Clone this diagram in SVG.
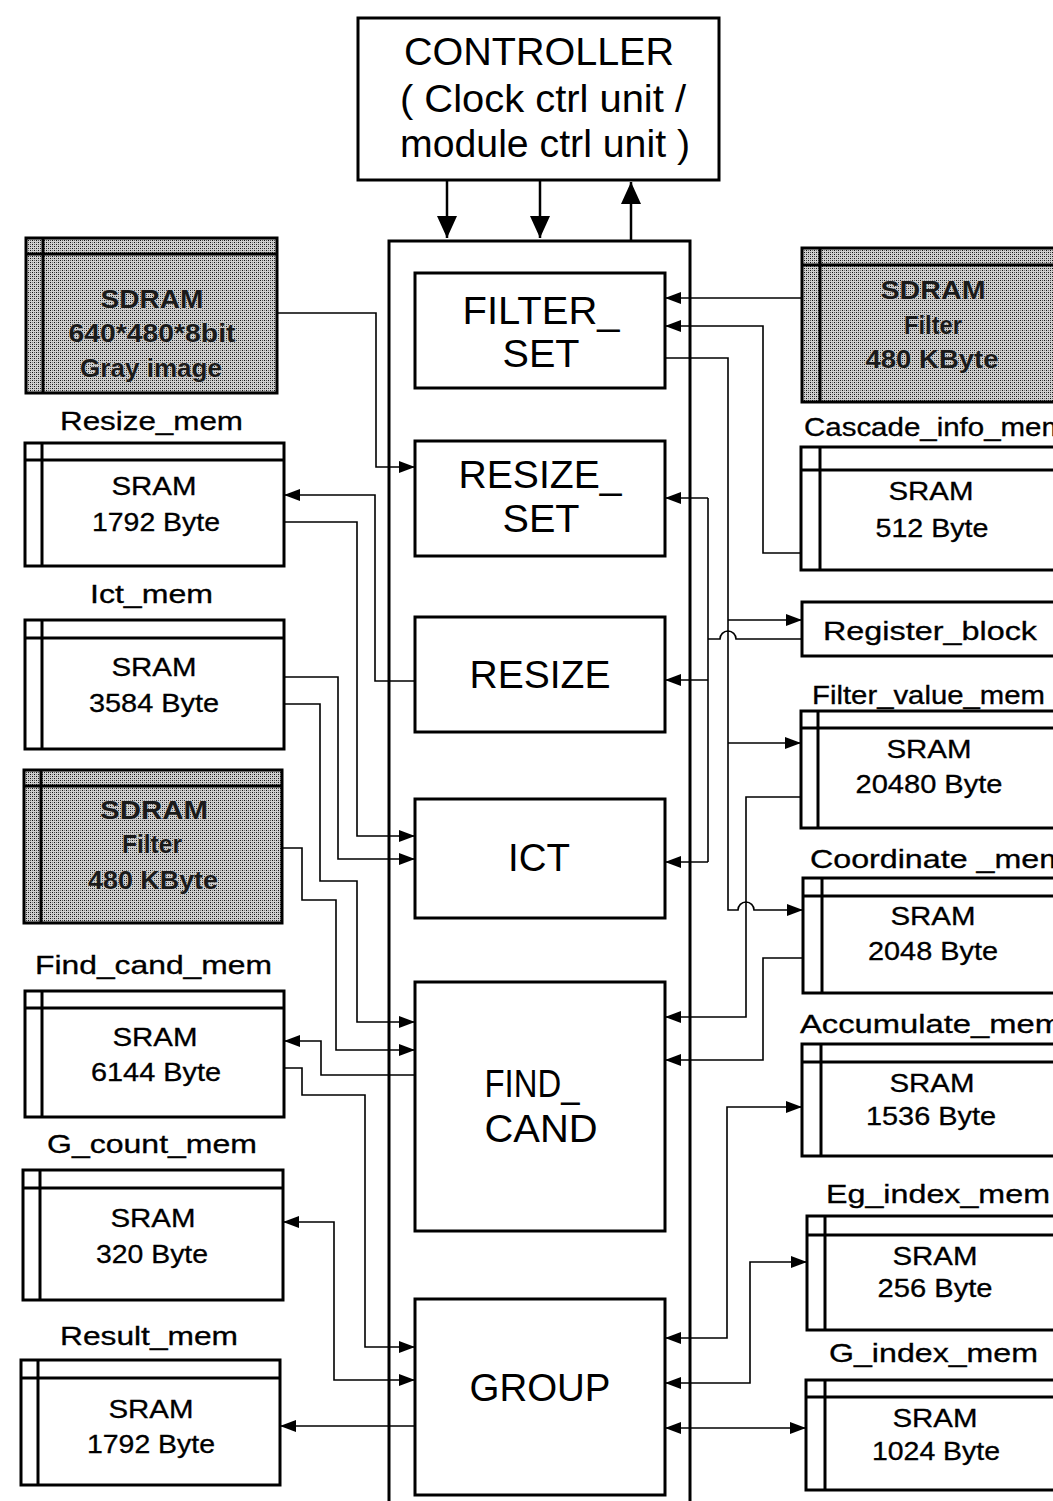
<svg xmlns="http://www.w3.org/2000/svg" width="1053" height="1501" viewBox="0 0 1053 1501">
<style>
.box{fill:#fff;stroke:#000;stroke-width:3}
.gbox{fill:url(#stip);stroke:#000;stroke-width:3}
.gline{stroke:#000;stroke-width:3}
.c{stroke:#000;stroke-width:1.6;fill:none}
.big{font-family:"Liberation Sans",Arial,sans-serif;font-size:38px;text-anchor:middle;fill:#000}
.lbl{font-family:"Liberation Sans",Arial,sans-serif;font-size:25px;fill:#000;stroke:#000;stroke-width:0.3}
.mem{font-family:"Liberation Sans",Arial,sans-serif;font-size:25px;text-anchor:middle;fill:#000;stroke:#000;stroke-width:0.3}
.gt{font-family:"Liberation Sans",Arial,sans-serif;font-size:26px;font-weight:bold;text-anchor:middle;fill:#1a1a1a;stroke:#cfcfcf;stroke-width:0.8;paint-order:stroke}
</style>
<defs>
<pattern id="stip" width="4" height="4" patternUnits="userSpaceOnUse">
<rect width="4" height="4" fill="#cfcfcf"/>
<rect x="0" y="0" width="1" height="1" fill="#111"/>
<rect x="2" y="2" width="1" height="1" fill="#111"/>
<rect x="2" y="0" width="1" height="1" fill="#555"/>
<rect x="0" y="2" width="1" height="1" fill="#777"/>
</pattern>
<marker id="ah" viewBox="0 0 16 12" refX="16" refY="6" markerWidth="16" markerHeight="12" markerUnits="userSpaceOnUse" orient="auto-start-reverse">
<path d="M0,0 L16,6 L0,12 z" fill="#000"/>
</marker>
<marker id="bh" viewBox="0 0 22 20" refX="22" refY="10" markerWidth="22" markerHeight="20" markerUnits="userSpaceOnUse" orient="auto-start-reverse">
<path d="M0,0 L22,10 L0,20 z" fill="#000"/>
</marker>
</defs>

<!-- Controller -->
<g id="controller">
<rect class="box" x="358" y="18" width="361" height="162"/>
<text class="big" x="539" y="65" font-size="36" textLength="270" lengthAdjust="spacingAndGlyphs">CONTROLLER</text>
<text class="big" x="543" y="112" font-size="36" textLength="286" lengthAdjust="spacingAndGlyphs">( Clock ctrl unit /</text>
<text class="big" x="545" y="157" font-size="36" textLength="290" lengthAdjust="spacingAndGlyphs">module ctrl unit )</text>
</g>

<!-- Main frame -->
<g id="core">
<rect class="box" x="389" y="241" width="301" height="1270"/>
</g>
<g id="filter_set">
<rect class="box" x="415" y="273" width="250" height="115"/>
<text class="big" x="541" y="324" textLength="157" lengthAdjust="spacingAndGlyphs">FILTER_</text>
<text class="big" x="541" y="367" textLength="77" lengthAdjust="spacingAndGlyphs">SET</text>
</g>
<g id="resize_set">
<rect class="box" x="415" y="441" width="250" height="115"/>
<text class="big" x="540" y="488" textLength="163" lengthAdjust="spacingAndGlyphs">RESIZE_</text>
<text class="big" x="541" y="532" textLength="77" lengthAdjust="spacingAndGlyphs">SET</text>
</g>
<g id="resize">
<rect class="box" x="415" y="617" width="250" height="115"/>
<text class="big" x="540" y="688" textLength="141" lengthAdjust="spacingAndGlyphs">RESIZE</text>
</g>
<g id="ict">
<rect class="box" x="415" y="799" width="250" height="119"/>
<text class="big" x="539" y="871" textLength="62" lengthAdjust="spacingAndGlyphs">ICT</text>
</g>
<g id="find_cand">
<rect class="box" x="415" y="982" width="250" height="249"/>
<text class="big" x="532" y="1097" textLength="95" lengthAdjust="spacingAndGlyphs">FIND_</text>
<text class="big" x="541" y="1142" textLength="113" lengthAdjust="spacingAndGlyphs">CAND</text>
</g>
<g id="group">
<rect class="box" x="415" y="1299" width="250" height="196"/>
<text class="big" x="540" y="1401" textLength="141" lengthAdjust="spacingAndGlyphs">GROUP</text>
</g>

<!-- Left memories -->
<g id="sdram_image">
<rect class="gbox" x="26" y="238" width="251" height="155"/>
<line class="gline" x1="26" y1="254" x2="277" y2="254"/>
<line class="gline" x1="43" y1="238" x2="43" y2="393"/>
<text class="gt" x="152" y="308" textLength="103" lengthAdjust="spacingAndGlyphs">SDRAM</text>
<text class="gt" x="152" y="342" textLength="167" lengthAdjust="spacingAndGlyphs">640*480*8bit</text>
<text class="gt" x="151" y="377" textLength="142" lengthAdjust="spacingAndGlyphs">Gray image</text>
</g>
<g id="resize_mem">
<text class="lbl" x="60" y="430" textLength="183" lengthAdjust="spacingAndGlyphs">Resize_mem</text>
<rect class="box" x="25" y="443" width="259" height="123"/>
<line class="gline" x1="25" y1="460" x2="284" y2="460"/>
<line class="gline" x1="42" y1="443" x2="42" y2="566"/>
<text class="mem" x="154" y="495" textLength="85" lengthAdjust="spacingAndGlyphs">SRAM</text>
<text class="mem" x="156" y="531" textLength="128" lengthAdjust="spacingAndGlyphs">1792 Byte</text>
</g>
<g id="ict_mem">
<text class="lbl" x="90" y="603" textLength="123" lengthAdjust="spacingAndGlyphs">Ict_mem</text>
<rect class="box" x="25" y="620" width="259" height="129"/>
<line class="gline" x1="25" y1="638" x2="284" y2="638"/>
<line class="gline" x1="42" y1="620" x2="42" y2="749"/>
<text class="mem" x="154" y="676" textLength="85" lengthAdjust="spacingAndGlyphs">SRAM</text>
<text class="mem" x="154" y="712" textLength="130" lengthAdjust="spacingAndGlyphs">3584 Byte</text>
</g>
<g id="sdram_filter_left">
<rect class="gbox" x="24" y="770" width="258" height="153"/>
<line class="gline" x1="24" y1="786" x2="282" y2="786"/>
<line class="gline" x1="41" y1="770" x2="41" y2="923"/>
<text class="gt" x="154" y="819" textLength="108" lengthAdjust="spacingAndGlyphs">SDRAM</text>
<text class="gt" x="152" y="853" textLength="60" lengthAdjust="spacingAndGlyphs">Filter</text>
<text class="gt" x="153" y="889" textLength="130" lengthAdjust="spacingAndGlyphs">480 KByte</text>
</g>
<g id="find_cand_mem">
<text class="lbl" x="35" y="974" textLength="237" lengthAdjust="spacingAndGlyphs">Find_cand_mem</text>
<rect class="box" x="25" y="991" width="259" height="126"/>
<line class="gline" x1="25" y1="1008" x2="284" y2="1008"/>
<line class="gline" x1="42" y1="991" x2="42" y2="1117"/>
<text class="mem" x="155" y="1046" textLength="85" lengthAdjust="spacingAndGlyphs">SRAM</text>
<text class="mem" x="156" y="1081" textLength="130" lengthAdjust="spacingAndGlyphs">6144 Byte</text>
</g>
<g id="g_count_mem">
<text class="lbl" x="47" y="1153" textLength="210" lengthAdjust="spacingAndGlyphs">G_count_mem</text>
<rect class="box" x="23" y="1170" width="260" height="130"/>
<line class="gline" x1="23" y1="1188" x2="283" y2="1188"/>
<line class="gline" x1="40" y1="1170" x2="40" y2="1300"/>
<text class="mem" x="153" y="1227" textLength="85" lengthAdjust="spacingAndGlyphs">SRAM</text>
<text class="mem" x="152" y="1263" textLength="112" lengthAdjust="spacingAndGlyphs">320 Byte</text>
</g>
<g id="result_mem">
<text class="lbl" x="60" y="1345" textLength="178" lengthAdjust="spacingAndGlyphs">Result_mem</text>
<rect class="box" x="21" y="1360" width="259" height="125"/>
<line class="gline" x1="21" y1="1378" x2="280" y2="1378"/>
<line class="gline" x1="38" y1="1360" x2="38" y2="1485"/>
<text class="mem" x="151" y="1418" textLength="85" lengthAdjust="spacingAndGlyphs">SRAM</text>
<text class="mem" x="151" y="1453" textLength="128" lengthAdjust="spacingAndGlyphs">1792 Byte</text>
</g>

<!-- Right memories -->
<g id="sdram_filter_right">
<rect class="gbox" x="802" y="248" width="260" height="154"/>
<line class="gline" x1="802" y1="265" x2="1062" y2="265"/>
<line class="gline" x1="820" y1="248" x2="820" y2="402"/>
<text class="gt" x="933" y="299" textLength="105" lengthAdjust="spacingAndGlyphs">SDRAM</text>
<text class="gt" x="933" y="334" textLength="58" lengthAdjust="spacingAndGlyphs">Filter</text>
<text class="gt" x="932" y="368" textLength="133" lengthAdjust="spacingAndGlyphs">480 KByte</text>
</g>
<g id="cascade_info_mem">
<text class="lbl" x="804" y="436" textLength="262" lengthAdjust="spacingAndGlyphs">Cascade_info_mem</text>
<rect class="box" x="801" y="447" width="262" height="123"/>
<line class="gline" x1="801" y1="470" x2="1063" y2="470"/>
<line class="gline" x1="820" y1="447" x2="820" y2="570"/>
<text class="mem" x="931" y="500" textLength="85" lengthAdjust="spacingAndGlyphs">SRAM</text>
<text class="mem" x="932" y="537" textLength="113" lengthAdjust="spacingAndGlyphs">512 Byte</text>
</g>
<g id="register_block">
<rect class="box" x="802" y="602" width="262" height="54"/>
<text class="lbl" x="823" y="640" textLength="214" lengthAdjust="spacingAndGlyphs">Register_block</text>
</g>
<g id="filter_value_mem">
<text class="lbl" x="812" y="704" textLength="233" lengthAdjust="spacingAndGlyphs">Filter_value_mem</text>
<rect class="box" x="801" y="711" width="262" height="117"/>
<line class="gline" x1="801" y1="728" x2="1063" y2="728"/>
<line class="gline" x1="818" y1="711" x2="818" y2="828"/>
<text class="mem" x="929" y="758" textLength="85" lengthAdjust="spacingAndGlyphs">SRAM</text>
<text class="mem" x="929" y="793" textLength="147" lengthAdjust="spacingAndGlyphs">20480 Byte</text>
</g>
<g id="coordinate_mem">
<text class="lbl" x="810" y="868" textLength="256" lengthAdjust="spacingAndGlyphs">Coordinate _mem</text>
<rect class="box" x="803" y="878" width="260" height="115"/>
<line class="gline" x1="803" y1="896" x2="1063" y2="896"/>
<line class="gline" x1="822" y1="878" x2="822" y2="993"/>
<text class="mem" x="933" y="925" textLength="85" lengthAdjust="spacingAndGlyphs">SRAM</text>
<text class="mem" x="933" y="960" textLength="130" lengthAdjust="spacingAndGlyphs">2048 Byte</text>
</g>
<g id="accumulate_mem">
<text class="lbl" x="800" y="1033" textLength="262" lengthAdjust="spacingAndGlyphs">Accumulate_mem</text>
<rect class="box" x="802" y="1044" width="261" height="112"/>
<line class="gline" x1="802" y1="1062" x2="1063" y2="1062"/>
<line class="gline" x1="821" y1="1044" x2="821" y2="1156"/>
<text class="mem" x="932" y="1092" textLength="85" lengthAdjust="spacingAndGlyphs">SRAM</text>
<text class="mem" x="931" y="1125" textLength="130" lengthAdjust="spacingAndGlyphs">1536 Byte</text>
</g>
<g id="eg_index_mem">
<text class="lbl" x="826" y="1203" textLength="224" lengthAdjust="spacingAndGlyphs">Eg_index_mem</text>
<rect class="box" x="807" y="1216" width="256" height="114"/>
<line class="gline" x1="807" y1="1235" x2="1063" y2="1235"/>
<line class="gline" x1="825" y1="1216" x2="825" y2="1330"/>
<text class="mem" x="935" y="1265" textLength="85" lengthAdjust="spacingAndGlyphs">SRAM</text>
<text class="mem" x="935" y="1297" textLength="115" lengthAdjust="spacingAndGlyphs">256 Byte</text>
</g>
<g id="g_index_mem">
<text class="lbl" x="829" y="1362" textLength="209" lengthAdjust="spacingAndGlyphs">G_index_mem</text>
<rect class="box" x="806" y="1380" width="257" height="110"/>
<line class="gline" x1="806" y1="1397" x2="1063" y2="1397"/>
<line class="gline" x1="825" y1="1380" x2="825" y2="1490"/>
<text class="mem" x="935" y="1427" textLength="85" lengthAdjust="spacingAndGlyphs">SRAM</text>
<text class="mem" x="936" y="1460" textLength="128" lengthAdjust="spacingAndGlyphs">1024 Byte</text>
</g>

<!-- Connectors -->
<g id="connectors">
<path class="c" style="stroke-width:2.5" d="M447,180 V238" marker-end="url(#bh)"/>
<path class="c" style="stroke-width:2.5" d="M540,180 V238" marker-end="url(#bh)"/>
<path class="c" style="stroke-width:2.5" d="M631,240 V182" marker-end="url(#bh)"/>

<path class="c" d="M277,313 H376 V467 H415" marker-end="url(#ah)"/>
<path class="c" d="M415,681 H375 V495 H284" marker-end="url(#ah)"/>
<path class="c" d="M284,522 H357 V836 H415" marker-end="url(#ah)"/>
<path class="c" d="M284,677 H338 V859 H415" marker-end="url(#ah)"/>
<path class="c" d="M284,704 H320 V881 H357 V1022 H415" marker-end="url(#ah)"/>
<path class="c" d="M282,848 H302 V900 H336 V1050 H415" marker-end="url(#ah)"/>
<path class="c" d="M415,1075 H321 V1041 H284" marker-end="url(#ah)"/>
<path class="c" d="M284,1068 H302 V1095 H365 V1347 H415" marker-end="url(#ah)"/>
<path class="c" d="M283,1222 H334 V1380 H415" marker-start="url(#ah)" marker-end="url(#ah)"/>
<path class="c" d="M415,1426 H280" marker-end="url(#ah)"/>

<path class="c" d="M802,298 H665" marker-end="url(#ah)"/>
<path class="c" d="M801,553 H763 V326 H665" marker-end="url(#ah)"/>
<path class="c" d="M665,358 H728 V910 H738 A8,8 0 0 1 754,910 H803" marker-end="url(#ah)"/>
<path class="c" d="M728,620 H802" marker-end="url(#ah)"/>
<path class="c" d="M728,743 H801" marker-end="url(#ah)"/>
<path class="c" d="M802,639 H736 A8,8 0 0 0 720,639 H708"/>
<path class="c" d="M708,498 V862"/>
<path class="c" d="M708,498 H665" marker-end="url(#ah)"/>
<path class="c" d="M708,680 H665" marker-end="url(#ah)"/>
<path class="c" d="M708,862 H665" marker-end="url(#ah)"/>
<path class="c" d="M801,797 H746 V1017 H665" marker-end="url(#ah)"/>
<path class="c" d="M803,958 H763 V1060 H665" marker-end="url(#ah)"/>
<path class="c" d="M802,1107 H727 V1338 H665" marker-start="url(#ah)" marker-end="url(#ah)"/>
<path class="c" d="M807,1262 H750 V1383 H665" marker-start="url(#ah)" marker-end="url(#ah)"/>
<path class="c" d="M665,1428 H806" marker-start="url(#ah)" marker-end="url(#ah)"/>
</g>
</svg>
